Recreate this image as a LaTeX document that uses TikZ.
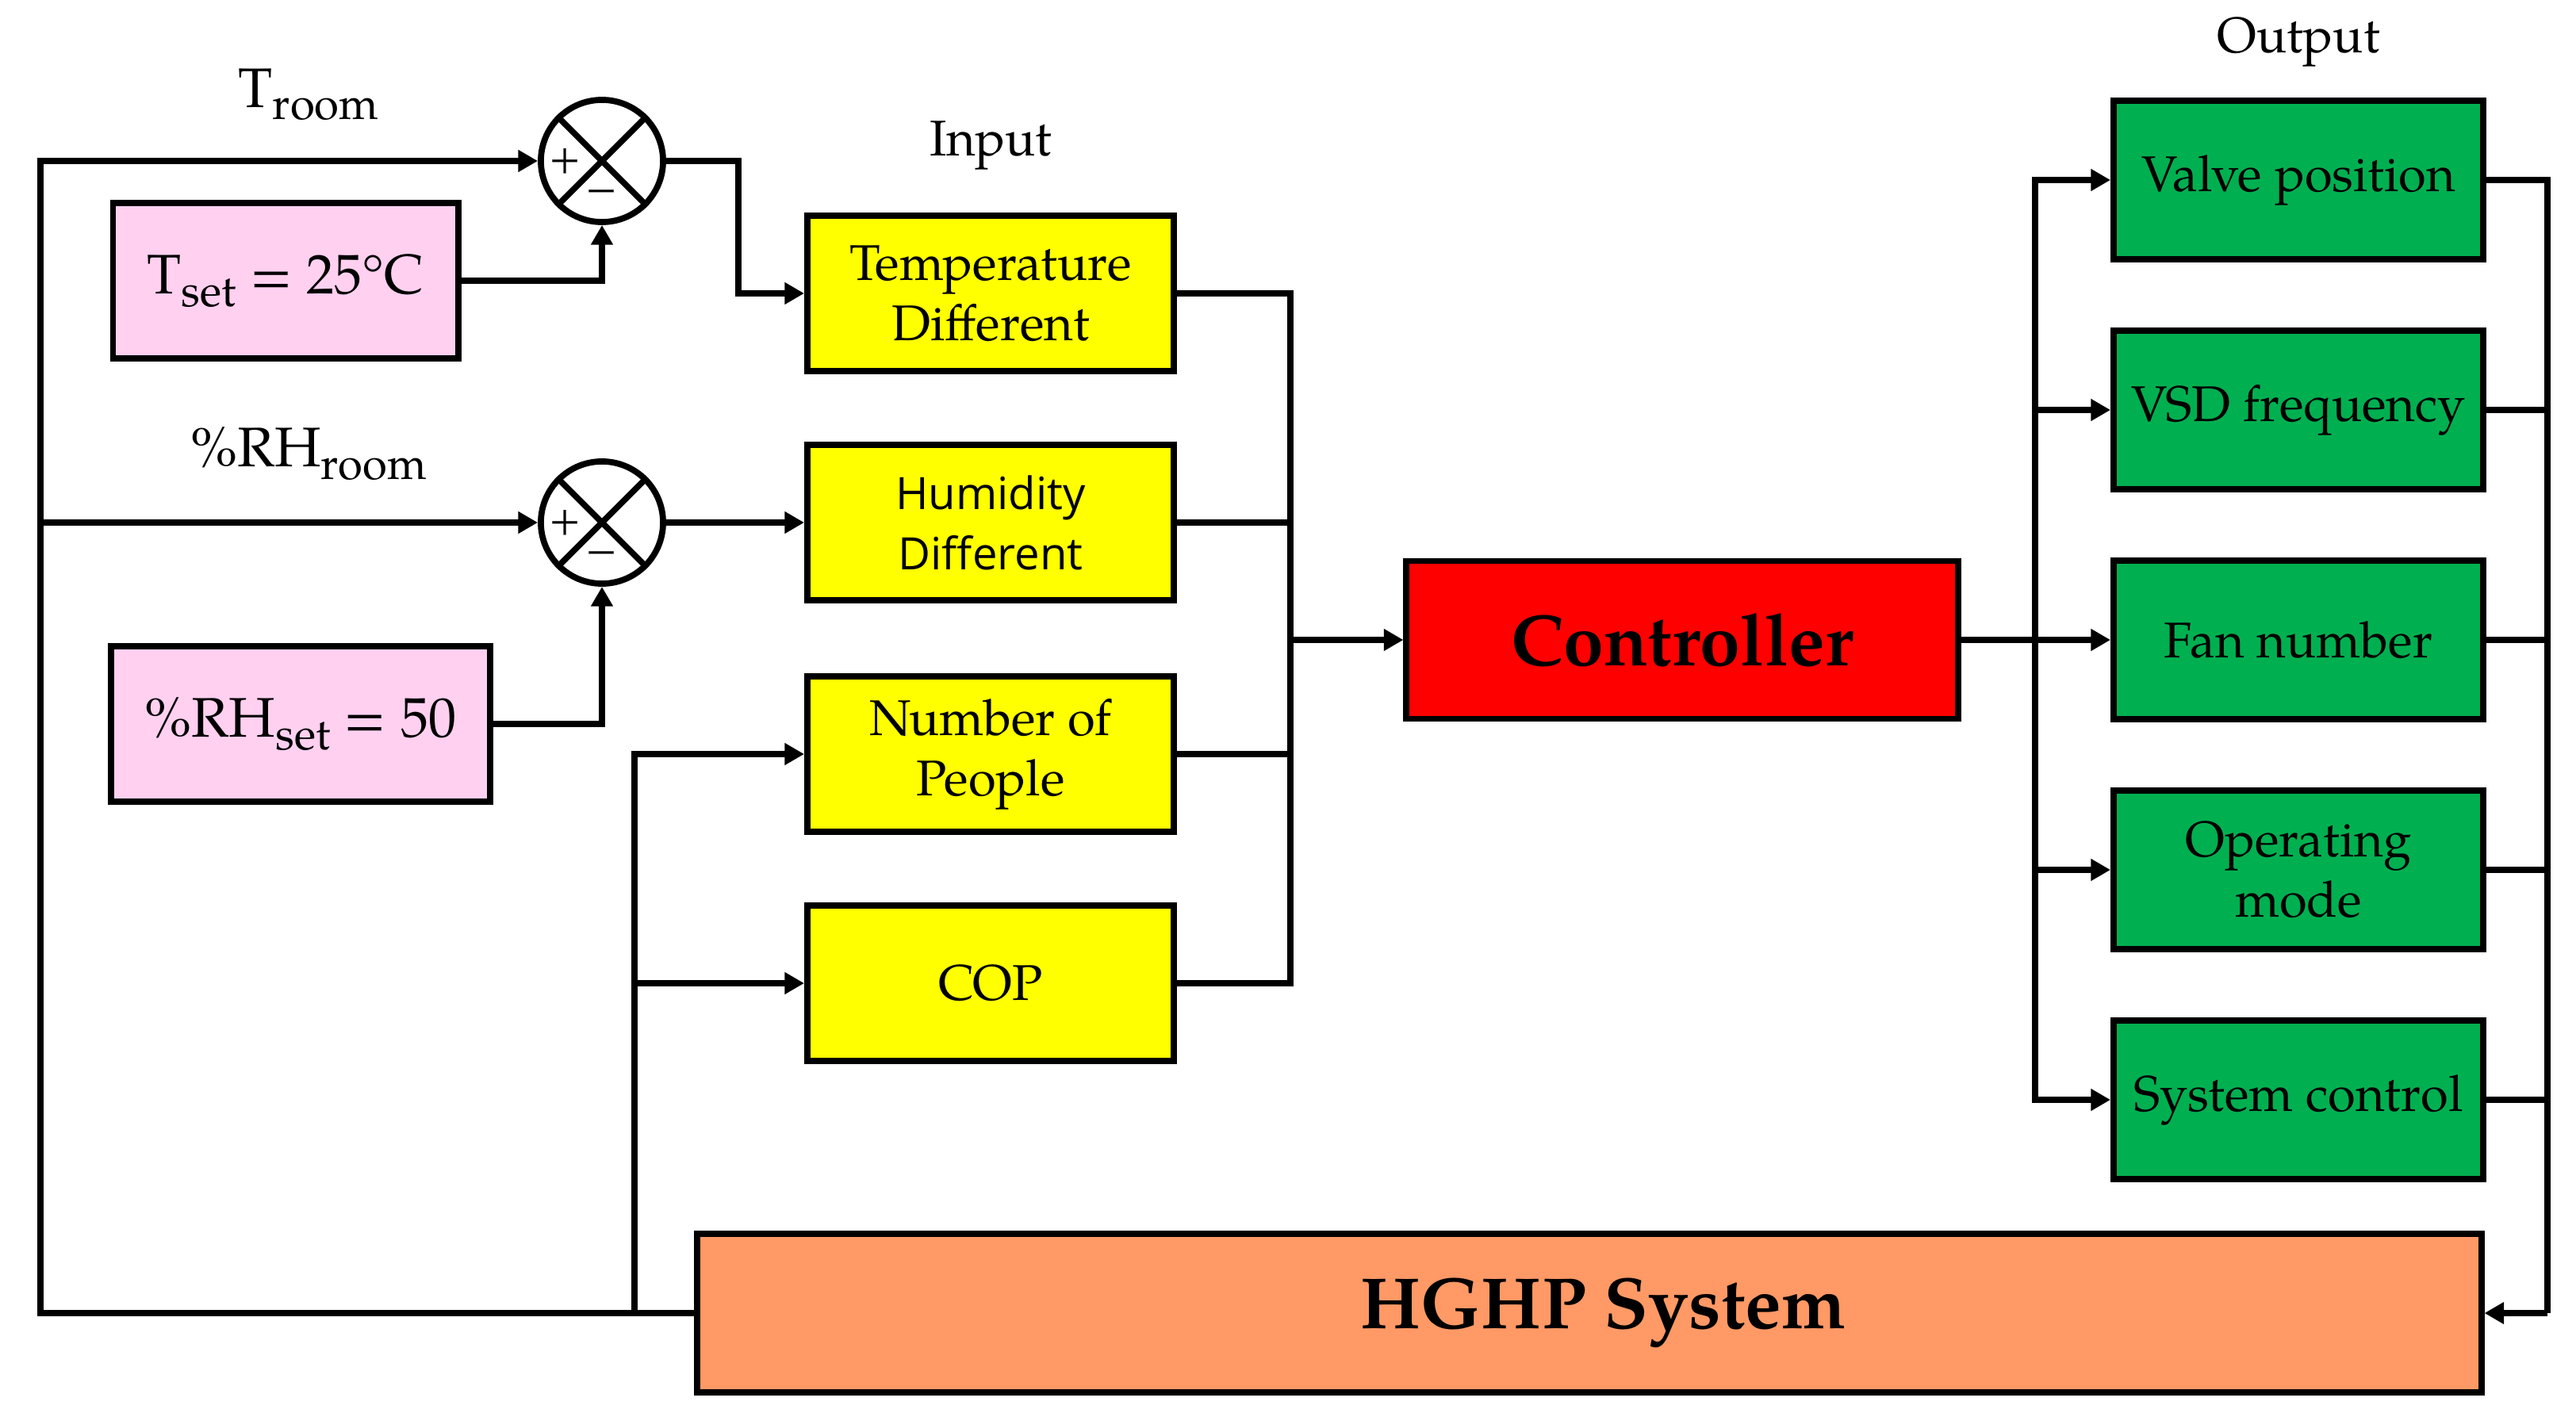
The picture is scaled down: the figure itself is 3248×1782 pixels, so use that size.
\documentclass[tikz,border=0pt]{standalone}
\usepackage{fontspec}
\setmainfont{TeX Gyre Pagella}
\newfontfamily\humfont{Open Sans}
\usetikzlibrary{arrows.meta}

\definecolor{setpink}{RGB}{255,208,240}
\definecolor{inyellow}{RGB}{255,255,0}
\definecolor{ctrlred}{RGB}{255,0,0}
\definecolor{outgreen}{RGB}{0,176,80}
\definecolor{sysorange}{RGB}{255,153,102}

% subscript as printed: large and low
\newcommand{\lowsub}[1]{\raisebox{-0.22em}{\fontsize{16}{16}\selectfont #1}}

\begin{document}
\begin{tikzpicture}[x = {(0.01cm, 0cm)},
                    y = {(0cm, -0.01cm)},
                    line width = 2.5pt,
                    box/.style = {draw, line width = 2.2pt, align = center, inner sep = 0pt,
                                  minimum width = 4.62cm, minimum height = 1.96cm,
                                  font = \fontsize{18}{21.6}\selectfont},
                    setbox/.style = {box, fill = setpink, font = \fontsize{20}{24}\selectfont},
                    outbox/.style = {box, fill = outgreen, minimum width = 4.66cm, minimum height = 2cm},
                    sumnode/.style = {draw, circle, line width = 2.2pt, minimum size = 1.54cm, inner sep = 0pt},
                    sign/.style = {font = \fontsize{15}{15}\selectfont, inner sep = 0pt},
                    label/.style = {font = \fontsize{18}{21.6}\selectfont},
                    arr/.style = {-{Triangle[length = 7pt, width = 7.5pt]}}]

  \useasboundingbox (0, 0) rectangle (3248, 1782);

  % set points and summing junctions
  \node[setbox, minimum width = 4.35cm] (tset) at (360, 354) {T\lowsub{set} = 25°C};
  \node[setbox, minimum width = 4.77cm] (rhset) at (379, 913) {\%RH\lowsub{set} = 50};
  \node[sumnode] (sumT) at (759, 203) {};
  \node[sumnode] (sumRH) at (759, 659) {};
  \foreach \s in {sumT, sumRH} {
    \draw[line width = 2.2pt] (\s.north west) -- (\s.south east);
    \draw[line width = 2.2pt] (\s.north east) -- (\s.south west);
    \node[sign] (\s plus) at ([xshift = -0.46cm] \s.center) {+};
    \node[sign] (\s minus) at ([yshift = -0.44cm] \s.center) {−};
  }
  \node[label, font = \fontsize{20}{24}\selectfont] (troom) at (389, 119) {T\lowsub{room}};
  \node[label, font = \fontsize{20}{24}\selectfont] (rhroom) at (389, 572) {\%RH\lowsub{room}};

  % inputs
  \node[label] (inlabel) at (1249, 183) {Input};
  \node[box, fill = inyellow] (tdiff) at (1249, 370) {Temperature\\Different};
  \node[box, fill = inyellow, font = \humfont\fontsize{16}{21.6}\selectfont] (hdiff) at (1249, 659) {Humidity\\Different};
  \node[box, fill = inyellow] (people) at (1249, 951) {Number of\\People};
  \node[box, fill = inyellow] (cop) at (1249, 1240) {COP};

  % controller
  \node[box, fill = ctrlred, minimum width = 6.95cm, minimum height = 1.99cm,
        font = \fontsize{26}{30}\selectfont\bfseries] (ctrl) at (2121, 807) {Controller};

  % outputs
  \node[label] (outlabel) at (2898, 53) {Output};
  \node[outbox] (valve) at (2898, 227) {Valve position};
  \node[outbox] (vsd) at (2898, 517) {VSD frequency};
  \node[outbox] (fan) at (2898, 807) {Fan number};
  \node[outbox] (opmode) at (2898, 1097) {Operating\\mode};
  \node[outbox] (sysctl) at (2898, 1387) {System control};

  % plant
  \node[box, fill = sysorange, minimum width = 22.48cm, minimum height = 2cm,
        font = \fontsize{26}{30}\selectfont\bfseries] (hghp) at (2004, 1656) {\hspace*{0.35cm}HGHP System};

  % junction points
  \coordinate (fbL) at (51, 1656);
  \coordinate (fbM) at (800, 1656);
  \coordinate (merge) at (1627, 807);
  \coordinate (split) at (2566, 807);
  \coordinate (ret) at (3212, 1656);

  % error signals
  \draw[arr] (tset.east) -| (sumT.south);
  \draw[arr] (rhset.east) -| (sumRH.south);
  \draw[arr] (sumT.east) -- ++(91, 0) |- (tdiff.west);
  \draw[arr] (sumRH.east) -- (hdiff.west);

  % inputs to controller
  \foreach \i in {tdiff, hdiff, people, cop}
    \draw (\i.east) -| (merge);
  \draw[arr] (merge) -- (ctrl.west);

  % controller to outputs
  \draw (ctrl.east) -- (split);
  \foreach \o in {valve, vsd, fan, opmode, sysctl} {
    \draw[arr] (split) |- (\o.west);
    \draw (\o.east) -| (ret);
  }
  \draw[arr] (ret) -- (hghp.east);

  % feedback
  \draw[arr] (hghp.west) -- (fbL) |- (sumT.west);
  \draw[arr] (fbL |- sumRH.west) -- (sumRH.west);
  \draw[arr] (fbM) |- (people.west);
  \draw[arr] (fbM |- cop.west) -- (cop.west);
\end{tikzpicture}
\end{document}
